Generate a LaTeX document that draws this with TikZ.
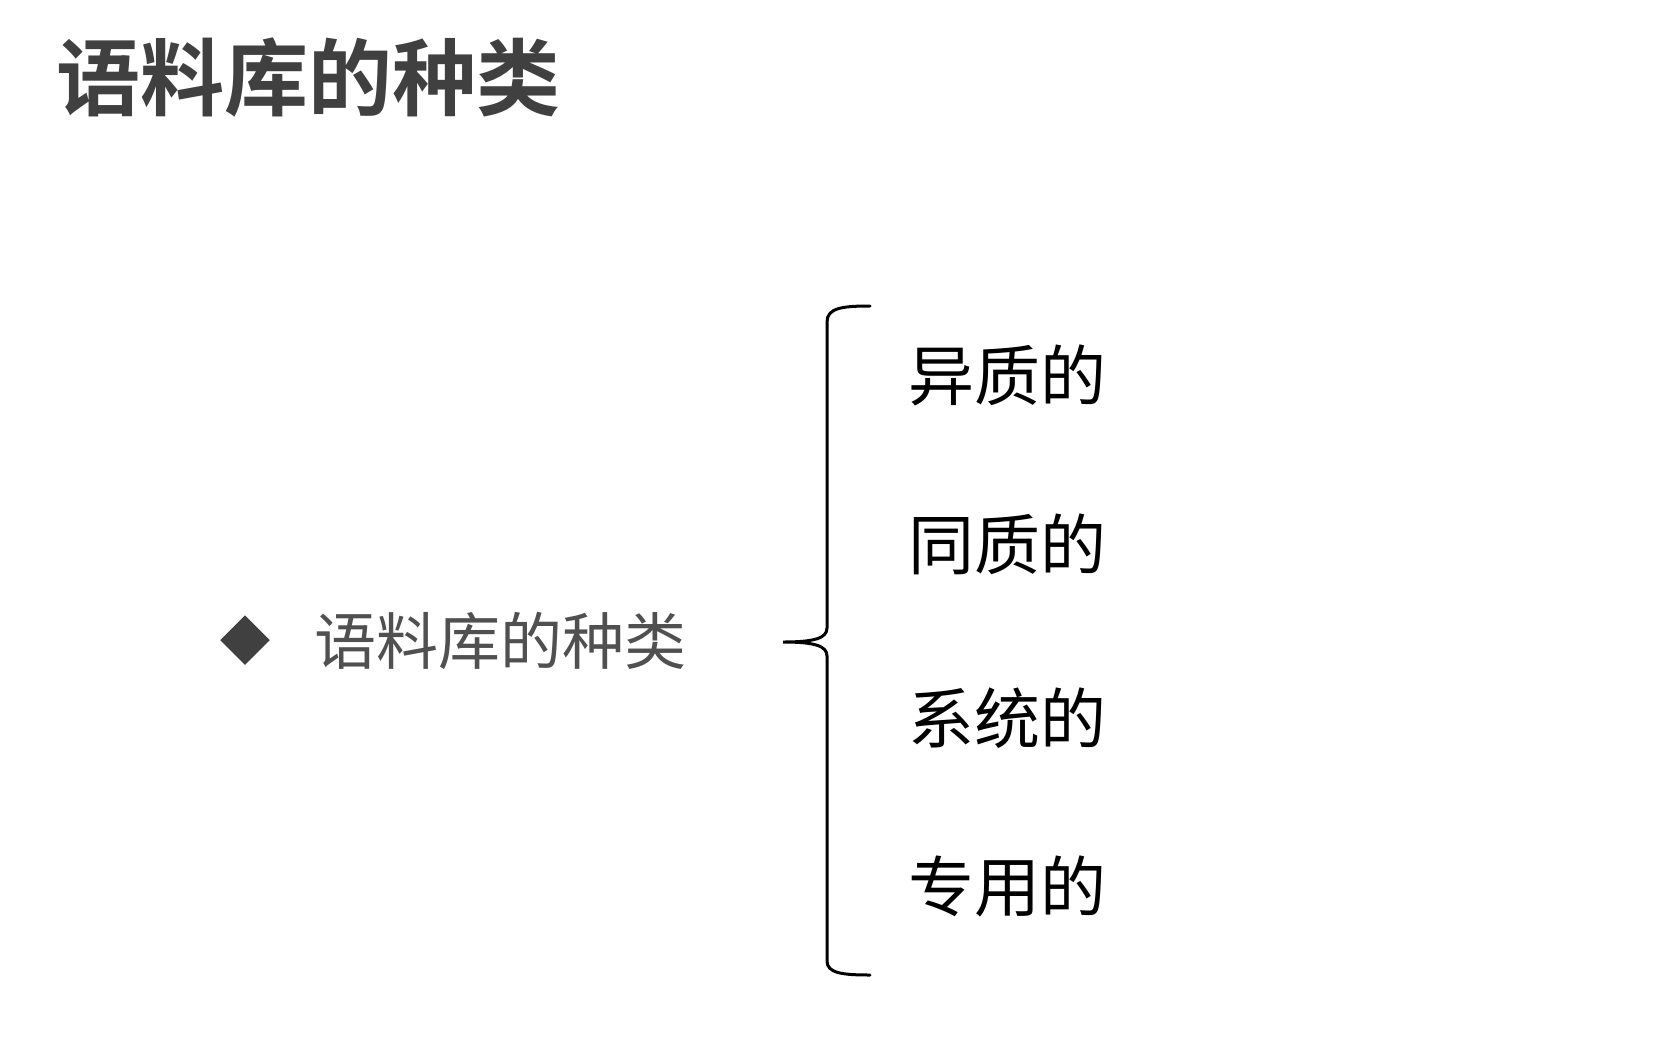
\documentclass[tikz,border=0pt]{standalone}
\usepackage{fontspec}
\newfontfamily\cjk{Noto Sans CJK SC}
\newfontfamily\cjkbold{Noto Sans CJK SC Bold}
\definecolor{titlegray}{HTML}{404040}
\definecolor{textgray}{HTML}{505050}
\begin{document}
\begin{tikzpicture}[x=0.5pt,y=-0.5pt,
  titletext/.style={font=\cjkbold\fontsize{42}{46}\selectfont, text=titlegray, inner sep=0pt},
  leadtext/.style={font=\cjk\fontsize{31}{34}\selectfont, text=textgray, inner sep=0pt},
  itemtext/.style={font=\cjk\fontsize{33}{36}\selectfont, text=black, inner sep=0pt},
  bracket/.style={draw=black, line width=1.5pt, line cap=round}]
  \useasboundingbox (0,0) rectangle (1680,1060);
  \fill[white] (0,0) rectangle (1680,1060);

  % heading
  \node[titletext] (title) at (308,78) {语料库的种类};

  % bullet and lead-in term
  \node[fill=titlegray, shape=rectangle, minimum size=17.5pt, inner sep=0pt, rotate=45] (bullet) at (245,640) {};
  \node[leadtext] (lead) at (500,641) {语料库的种类};

  % the four kinds
  \node[itemtext] (k1) at (1007,375) {异质的};
  \node[itemtext] (k2) at (1007,544) {同质的};
  \node[itemtext] (k3) at (1007,718) {系统的};
  \node[itemtext] (k4) at (1007,886) {专用的};

  % curly brace grouping them
  \coordinate (btop) at (870,306);
  \coordinate (btip) at (783,642);
  \coordinate (bbot) at (870,975);
  \draw[bracket] (btop) .. controls (842,306) and (827,308) .. (827,322)
    -- (827,628) .. controls (827,638) and (815,642) .. (btip)
    .. controls (815,642) and (827,646) .. (827,656)
    -- (827,961) .. controls (827,973) and (842,975) .. (bbot);
\end{tikzpicture}
\end{document}
